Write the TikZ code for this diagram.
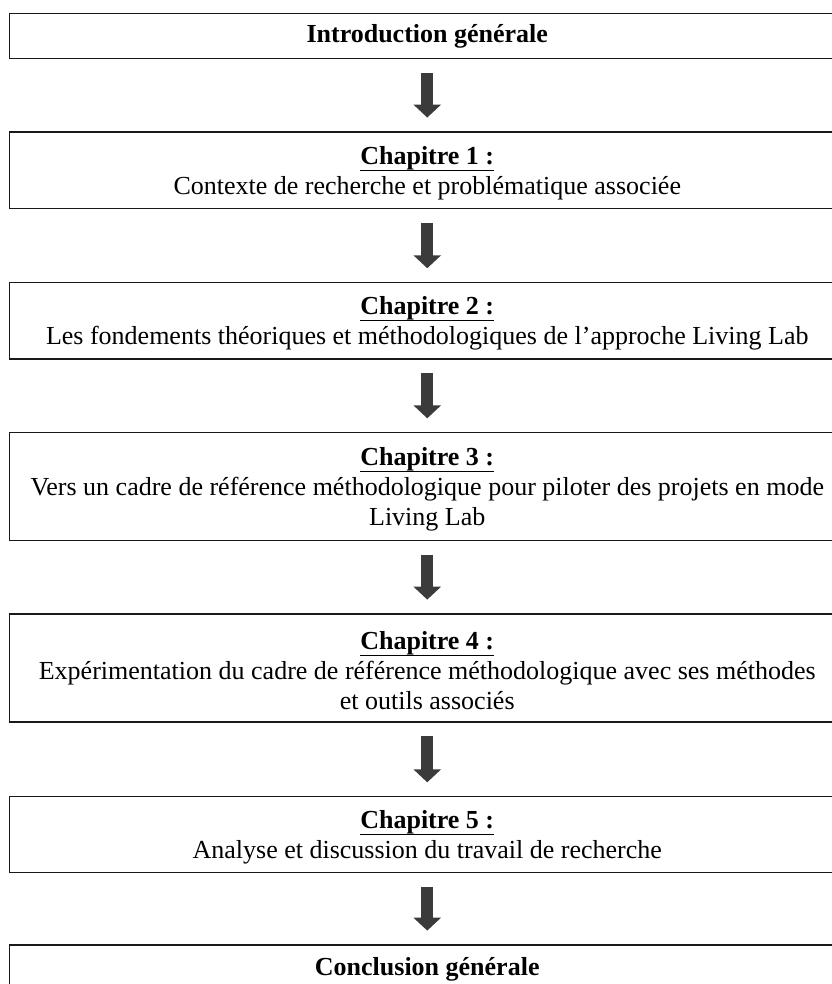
\documentclass[tikz,border=0pt]{standalone}
\usepackage{fontspec}
\setmainfont{Liberation Serif}
\usetikzlibrary{arrows.meta}
\newsavebox\chapbox
\newcommand\chaphead[1]{\sbox\chapbox{\bfseries #1}\leavevmode\rule{0pt}{23bp}\rlap{\rule[-7bp]{\wd\chapbox}{1.5bp}}\usebox\chapbox}
\begin{document}
\begin{tikzpicture}[x=1bp,y=-1bp,
  box/.style={draw=black!90, line width=1.4bp, minimum width=836bp, inner sep=0pt,
    align=center, font=\fontsize{26bp}{30bp}\selectfont},
  flow/.style={draw=black!77, line width=12bp, -{Triangle[width=27bp,length=13bp]},
    shorten <=13.6bp, shorten >=13.7bp}]
\useasboundingbox (0,0) rectangle (832,984);
\clip (0,0) rectangle (832,984);
\node[box, minimum height=45.4bp] (intro) at (427.25,36) {\bfseries Introduction générale};
\node[box, minimum height=76.7bp] (c1) at (427.25,170.3)
  {\chaphead{Chapitre 1 :}\\Contexte de recherche et problématique associée};
\node[box, minimum height=76.3bp] (c2) at (427.25,320.8)
  {\chaphead{Chapitre 2 :}\\Les fondements théoriques et méthodologiques de l’approche Living Lab};
\node[box, minimum height=108bp] (c3) at (427.25,486.7)
  {\chaphead{Chapitre 3 :}\\Vers un cadre de référence méthodologique pour piloter des projets en mode\\Living Lab};
\node[box, minimum height=108bp] (c4) at (427.25,668)
  {\chaphead{Chapitre 4 :}\\Expérimentation du cadre de référence méthodologique avec ses méthodes\\et outils associés};
\node[box, minimum height=76bp] (c5) at (427.25,834.7)
  {\chaphead{Chapitre 5 :}\\Analyse et discussion du travail de recherche};
\node[box, minimum height=48bp] (concl) at (427.25,969) {\bfseries Conclusion générale};
\draw[flow] (intro) -- (c1);
\draw[flow] (c1) -- (c2);
\draw[flow] (c2) -- (c3);
\draw[flow] (c3) -- (c4);
\draw[flow] (c4) -- (c5);
\draw[flow] (c5) -- (concl);
\end{tikzpicture}
\end{document}
